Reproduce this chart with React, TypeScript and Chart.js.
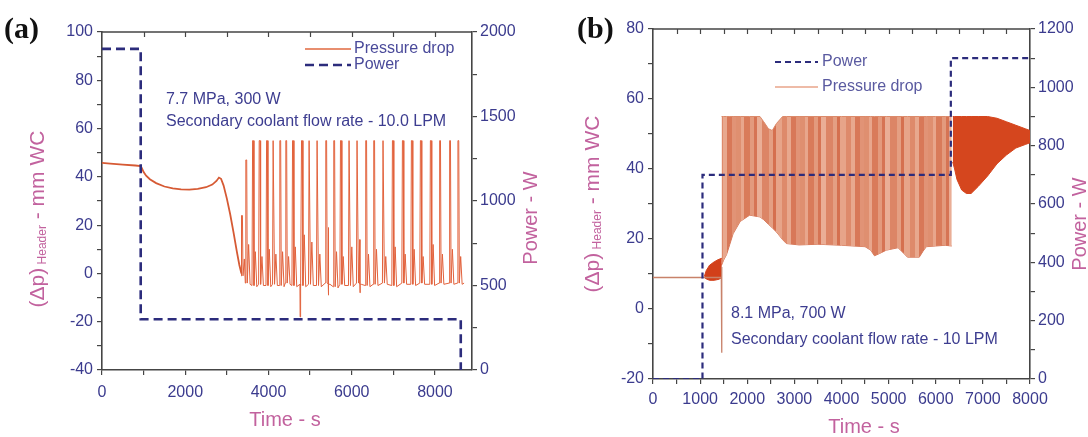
import React, { useEffect, useRef } from "react";
import { Chart, registerables } from "chart.js";

Chart.register(...registerables);

// ---------------- Panel (a) data ----------------
const preTimeA = [0, 200, 500, 800, 930, 960, 1000, 1060, 1150, 1300, 1500, 1700, 1900, 2100, 2300, 2500, 2650, 2750, 2810, 2860, 2920, 3000, 3080, 3160, 3240, 3300, 3350];
const prePressureA = [45.8, 45.5, 45.1, 44.7, 44.5, 43.5, 42, 40.5, 39, 37.4, 36, 35.2, 34.8, 34.7, 35, 35.7, 36.8, 38.3, 39.7, 39.2, 36.5, 31, 24.5, 17, 9, 3.5, 0];
const spikeTimesA = [3360, 3463, 3624, 3783, 3960, 4118, 4279, 4423, 4584, 4800, 4982, 5174, 5383, 5575, 5736, 5942, 6134, 6343, 6535, 6758, 6984, 7224, 7440, 7656, 7896, 8119, 8359, 8558];
const spikePeaksA = [24, 47, 55, 55, 55, 55, 55, 55, 55, 55, 55, 55, 55, 55, 55, 55, 55, 55, 55, 55, 55, 55, 55, 55, 55, 55, 55, 55];
const bumpPeaksA = [6, 12, 9, 7, 10, 8, 9, 7, 11, 16, 13, 8, 19, 9, 7, 11, 14, 8, 10, 7, 11, 8, 10, 7, 12, 8, 10, 7];
const baseLevelsA = [-1, -4, -5, -4.5, -5, -4.5, -5, -4, -5, -5, -4.5, -5, -4, -5.5, -4.5, -5, -4, -5, -4.5, -4, -5, -4, -4.5, -4, -4.5, -4, -4, -4];
const dipTimesA = [4760, 5440, 6200];
const dipValuesA = [-18, -9, -8];
const endTimeA = 8700;
const endPressureA = -4;
const powerTimeA = [0, 930, 930, 8620, 8620];
const powerA = [1900, 1900, 300, 300, 0];
const xTicksA = [0, 1000, 2000, 3000, 4000, 5000, 6000, 7000, 8000];
const yTicksA = [-40, -30, -20, -10, 0, 10, 20, 30, 40, 50, 60, 70, 80, 90, 100];
const y2TicksA = [0, 250, 500, 750, 1000, 1250, 1500, 1750, 2000];

// ---------------- Panel (b) data ----------------
const flatTimeB = [0, 1100, 1440, 1450, 1456, 1462];
const flatPressureB = [9, 9, 9, 9, -12.5, 12];
const blobTimeB = [1090, 1130, 1200, 1300, 1400, 1460];
const blobHighB = [9.3, 11, 12.5, 13.5, 14.2, 14.5];
const blobLowB = [9, 8.6, 8.2, 8.2, 8.5, 9];
const bandTimeB = [1455, 1500, 1560, 1630, 1700, 1850, 2050, 2270, 2350, 2450, 2530, 2620, 2750, 2830, 3100, 3500, 4000, 4500, 4620, 4700, 4800, 4950, 5200, 5300, 5400, 5650, 5730, 5800, 6000, 6200, 6340];
const bandHighB = [55, 55, 55, 55, 55, 55, 55, 55, 53.5, 51.5, 51, 53, 55, 55, 55, 55, 55, 55, 55, 55, 55, 55, 55, 55, 55, 55, 55, 55, 55, 55, 55];
const bandLowB = [12.5, 14, 15.5, 18.5, 21.5, 25, 26.8, 26.3, 25.5, 24.2, 23.2, 22, 19.8, 18.7, 18.3, 18.5, 18.2, 17.8, 16.8, 15.2, 15.8, 16.8, 17.5, 16.2, 14.8, 14.8, 16.5, 17.8, 18, 18.2, 18];
const lateTimeB = [6360, 6400, 6450, 6550, 6650, 6750, 6900, 7100, 7300, 7500, 7700, 7900, 8000];
const lateHighB = [55, 55, 55, 55, 55, 55, 55, 55, 54.5, 53.5, 52.5, 51.5, 51];
const lateLowB = [42, 40, 37, 34, 33, 33, 35, 38, 41.5, 44, 46, 47, 47.5];
const powerTimeB = [0, 1050, 1050, 6320, 6320, 8000];
const powerB = [0, 0, 700, 700, 1100, 1100];
const xTicksB = [0, 500, 1000, 1500, 2000, 2500, 3000, 3500, 4000, 4500, 5000, 5500, 6000, 6500, 7000, 7500, 8000];
const yTicksB = [-20, -10, 0, 10, 20, 30, 40, 50, 60, 70, 80];
const y2TicksB = [0, 100, 200, 300, 400, 500, 600, 700, 800, 900, 1000, 1100, 1200];

// ---------------- styles ----------------
const FONT = "'Liberation Sans', Arial, sans-serif";
const TICK_COLOR = "#3b3b8e";
const TITLE_COLOR = "#c2629e";
const AXIS_COLOR = "#454545";
const NAVY = "#2c2c7c";

const pts = (xs: number[], ys: number[]) => xs.map((x, i) => ({ x, y: ys[i] }));

function oscillationA() {
  const out: { x: number; y: number }[] = [{ x: 3350, y: 0 }];
  for (let i = 0; i < spikeTimesA.length; i++) {
    const t = spikeTimesA[i];
    const b = baseLevelsA[i];
    out.push({ x: t - 20, y: b });
    out.push({ x: t - 6, y: spikePeaksA[i] });
    out.push({ x: t + 14, y: spikePeaksA[i] });
    out.push({ x: t + 28, y: b });
    out.push({ x: t + 60, y: bumpPeaksA[i] });
    out.push({ x: t + 95, y: b - 0.5 });
  }
  dipTimesA.forEach((t, i) => {
    out.push({ x: t - 4, y: -4.5 });
    out.push({ x: t, y: dipValuesA[i] });
    out.push({ x: t + 4, y: -4.5 });
  });
  out.push({ x: endTimeA, y: endPressureA });
  out.sort((a, b) => a.x - b.x);
  return out;
}

function makeScale(o: any) {
  const horizontal = o.position === "bottom";
  return {
    type: "linear",
    position: o.position,
    min: o.min,
    max: o.max,
    afterFit: (s: any) => {
      if (horizontal) s.height = o.size;
      else s.width = o.size;
    },
    afterBuildTicks: (s: any) => {
      s.ticks = o.ticks.map((v: number) => ({ value: v }));
    },
    ticks: {
      autoSkip: false,
      maxRotation: 0,
      color: TICK_COLOR,
      padding: o.padding,
      font: { family: FONT, size: 16 },
      callback: (v: number) => (Math.abs(v % o.major) < 1e-6 ? String(v) : ""),
    },
    grid: {
      drawOnChartArea: false,
      drawTicks: true,
      tickLength: 5,
      color: AXIS_COLOR,
      lineWidth: 1.2,
    },
    border: { display: true, color: AXIS_COLOR, width: 1.6 },
  };
}

function drawRotatedParts(ctx: CanvasRenderingContext2D, cx: number, cy: number, parts: { t: string; s: number; dy: number }[], color: string) {
  ctx.save();
  ctx.translate(cx, cy);
  ctx.rotate(-Math.PI / 2);
  ctx.fillStyle = color;
  ctx.textBaseline = "middle";
  let total = 0;
  for (const p of parts) {
    ctx.font = `${p.s}px ${FONT}`;
    total += ctx.measureText(p.t).width;
  }
  let x = -total / 2;
  for (const p of parts) {
    ctx.font = `${p.s}px ${FONT}`;
    ctx.fillText(p.t, x, p.dy);
    x += ctx.measureText(p.t).width;
  }
  ctx.restore();
}

function drawText(ctx: CanvasRenderingContext2D, text: string, x: number, y: number, font: string, color: string, align: CanvasTextAlign = "left") {
  ctx.save();
  ctx.font = font;
  ctx.fillStyle = color;
  ctx.textAlign = align;
  ctx.textBaseline = "middle";
  ctx.fillText(text, x, y);
  ctx.restore();
}

function legendLine(ctx: CanvasRenderingContext2D, x1: number, x2: number, y: number, color: string, width: number, dash: number[]) {
  ctx.save();
  ctx.strokeStyle = color;
  ctx.lineWidth = width;
  ctx.setLineDash(dash);
  ctx.beginPath();
  ctx.moveTo(x1, y);
  ctx.lineTo(x2, y);
  ctx.stroke();
  ctx.restore();
}

function framePlugin(extra: (chart: any) => void, topTicks: number[]) {
  return {
    id: "frame",
    afterDraw(chart: any) {
      const ctx = chart.ctx as CanvasRenderingContext2D;
      const a = chart.chartArea;
      const xs = chart.scales.x;
      ctx.save();
      ctx.strokeStyle = AXIS_COLOR;
      ctx.lineWidth = 1.6;
      ctx.beginPath();
      ctx.moveTo(a.left, a.top);
      ctx.lineTo(a.right, a.top);
      ctx.stroke();
      ctx.lineWidth = 1.2;
      for (const v of topTicks) {
        if (v <= xs.min || v >= xs.max) continue;
        const px = Math.round(xs.getPixelForValue(v)) + 0.5;
        ctx.beginPath();
        ctx.moveTo(px, a.top);
        ctx.lineTo(px, a.top + 5);
        ctx.stroke();
      }
      ctx.restore();
      extra(chart);
    },
  };
}

function stripePattern(ctx: CanvasRenderingContext2D) {
  const c = document.createElement("canvas");
  c.width = 64;
  c.height = 4;
  const g = c.getContext("2d")!;
  const stripes: [string, number][] = [
    ["#df8f70", 5], ["#e8a68c", 3], ["#d97b5a", 6], ["#e39a7d", 4], ["#d67454", 3], ["#eaae96", 5], ["#dc8566", 7],
    ["#e49f83", 4], ["#d5704f", 3], ["#e7a489", 6], ["#de8a6b", 5], ["#e8a88e", 4], ["#d87858", 5], ["#e19376", 4],
  ];
  let x = 0;
  for (const [col, w] of stripes) {
    g.fillStyle = col;
    g.fillRect(x, 0, w, 4);
    x += w;
  }
  return ctx.createPattern(c, "repeat");
}

const headerTitle = [
  { t: "(Δp)", s: 21, dy: 0 },
  { t: " Header", s: 12, dy: 5 },
  { t: " - mm WC", s: 21, dy: 0 },
];

function configA(): any {
  return {
    type: "line",
    data: {
      datasets: [
        {
          data: pts(powerTimeA, powerA),
          yAxisID: "y2",
          borderColor: NAVY,
          borderWidth: 2.6,
          borderDash: [9, 5],
          pointRadius: 0,
          fill: false,
        },
        {
          data: pts(preTimeA, prePressureA),
          yAxisID: "y",
          borderColor: "#d65a34",
          borderWidth: 1.8,
          pointRadius: 0,
          fill: false,
        },
        {
          data: oscillationA(),
          yAxisID: "y",
          borderColor: "#e2623c",
          borderWidth: 1,
          pointRadius: 0,
          fill: false,
        },
      ],
    },
    options: {
      animation: false,
      responsive: false,
      devicePixelRatio: 1,
      layout: { padding: { top: 32, left: 0, right: 0, bottom: 0 } },
      plugins: { legend: { display: false }, tooltip: { enabled: false } },
      scales: {
        x: makeScale({ position: "bottom", min: 0, max: 8890, ticks: xTicksA, major: 2000, size: 67, padding: 8 }),
        y: makeScale({ position: "left", min: -40, max: 100, ticks: yTicksA, major: 20, size: 102, padding: 4 }),
        y2: makeScale({ position: "right", min: 0, max: 2000, ticks: y2TicksA, major: 500, size: 72, padding: 3 }),
      },
    },
    plugins: [
      framePlugin((chart: any) => {
        const ctx = chart.ctx as CanvasRenderingContext2D;
        drawText(ctx, "(a)", 4, 30, `bold 30px 'Liberation Serif', 'Times New Roman', serif`, "#111");
        drawText(ctx, "7.7 MPa, 300 W", 166, 100, `16px ${FONT}`, "#3d3d90");
        drawText(ctx, "Secondary coolant flow rate - 10.0 LPM", 166, 122, `16px ${FONT}`, "#3d3d90");
        legendLine(ctx, 305, 351, 49, "#e0683f", 1.6, []);
        drawText(ctx, "Pressure drop", 354, 49, `16px ${FONT}`, "#4a4a9a");
        legendLine(ctx, 305, 351, 65, NAVY, 2.4, [9, 5]);
        drawText(ctx, "Power", 354, 65, `16px ${FONT}`, "#4a4a9a");
        drawText(ctx, "Time - s", 285, 420, `20px ${FONT}`, TITLE_COLOR, "center");
        drawRotatedParts(ctx, 38, 219, headerTitle, TITLE_COLOR);
        drawRotatedParts(ctx, 531, 218, [{ t: "Power - W", s: 20, dy: 0 }], TITLE_COLOR);
      }, xTicksA),
    ],
  };
}

function configB(ctx2d: CanvasRenderingContext2D): any {
  const pattern = stripePattern(ctx2d);
  return {
    type: "line",
    data: {
      datasets: [
        {
          data: pts(powerTimeB, powerB),
          yAxisID: "y2",
          borderColor: NAVY,
          borderWidth: 2.2,
          borderDash: [6, 4],
          pointRadius: 0,
          fill: false,
        },
        {
          data: pts(flatTimeB, flatPressureB),
          yAxisID: "y",
          borderColor: "#c8826a",
          borderWidth: 1.3,
          pointRadius: 0,
          fill: false,
        },
        {
          data: pts(blobTimeB, blobHighB),
          yAxisID: "y",
          borderColor: "#d2401a",
          borderWidth: 1,
          backgroundColor: "#d2401a",
          pointRadius: 0,
          fill: "+1",
        },
        {
          data: pts(blobTimeB, blobLowB),
          yAxisID: "y",
          borderColor: "#d2401a",
          borderWidth: 1,
          pointRadius: 0,
          fill: false,
        },
        {
          data: pts(lateTimeB, lateHighB),
          yAxisID: "y",
          borderColor: "#d5461e",
          borderWidth: 1,
          backgroundColor: "#d5461e",
          pointRadius: 0,
          fill: "+1",
        },
        {
          data: pts(lateTimeB, lateLowB),
          yAxisID: "y",
          borderColor: "#d5461e",
          borderWidth: 1,
          pointRadius: 0,
          fill: false,
        },
        {
          data: pts(bandTimeB, bandHighB),
          yAxisID: "y",
          borderColor: "#dc8a6a",
          borderWidth: 1,
          backgroundColor: pattern,
          pointRadius: 0,
          fill: "+1",
        },
        {
          data: pts(bandTimeB, bandLowB),
          yAxisID: "y",
          borderColor: "#d6785a",
          borderWidth: 1,
          pointRadius: 0,
          fill: false,
        },
      ],
    },
    options: {
      animation: false,
      responsive: false,
      devicePixelRatio: 1,
      layout: { padding: { top: 29, left: 0, right: 0, bottom: 0 } },
      plugins: { legend: { display: false }, tooltip: { enabled: false } },
      scales: {
        x: makeScale({ position: "bottom", min: 0, max: 8000, ticks: xTicksB, major: 1000, size: 58, padding: 6 }),
        y: makeScale({ position: "left", min: -20, max: 80, ticks: yTicksB, major: 20, size: 109, padding: 4 }),
        y2: makeScale({ position: "right", min: 0, max: 1200, ticks: y2TicksB, major: 200, size: 58, padding: 3 }),
      },
    },
    plugins: [
      framePlugin((chart: any) => {
        const ctx = chart.ctx as CanvasRenderingContext2D;
        drawText(ctx, "(b)", 33, 30, `bold 30px 'Liberation Serif', 'Times New Roman', serif`, "#111");
        legendLine(ctx, 231, 274, 62, NAVY, 2, [6, 4]);
        drawText(ctx, "Power", 278, 62, `16px ${FONT}`, "#5a5aa0");
        legendLine(ctx, 231, 274, 87, "#e8a58a", 1.6, []);
        drawText(ctx, "Pressure drop", 278, 87, `16px ${FONT}`, "#5a5aa0");
        drawText(ctx, "8.1 MPa, 700 W", 187, 314, `16px ${FONT}`, "#3d3d90");
        drawText(ctx, "Secondary coolant flow rate - 10 LPM", 187, 340, `16px ${FONT}`, "#3d3d90");
        drawText(ctx, "Time - s", 320, 427, `20px ${FONT}`, TITLE_COLOR, "center");
        drawRotatedParts(ctx, 49, 204, headerTitle, TITLE_COLOR);
        drawRotatedParts(ctx, 536, 224, [{ t: "Power - W", s: 20, dy: 0 }], TITLE_COLOR);
      }, xTicksB),
    ],
  };
}

function ChartCanvas({ left, make }: { left: number; make: (ctx: CanvasRenderingContext2D) => any }) {
  const ref = useRef<HTMLCanvasElement | null>(null);
  useEffect(() => {
    const canvas = ref.current!;
    const chart = new Chart(canvas, make(canvas.getContext("2d")!));
    return () => chart.destroy();
  }, []);
  return (
    <canvas
      ref={ref}
      width={544}
      height={437}
      style={{ position: "absolute", left, top: 0, width: 544, height: 437 }}
    />
  );
}

export default function App() {
  return (
    <div
      style={{
        position: "absolute",
        left: 0,
        top: 0,
        width: 1088,
        height: 437,
        background: "#ffffff",
        overflow: "hidden",
      }}
    >
      <ChartCanvas left={0} make={() => configA()} />
      <ChartCanvas left={544} make={(ctx) => configB(ctx)} />
    </div>
  );
}
